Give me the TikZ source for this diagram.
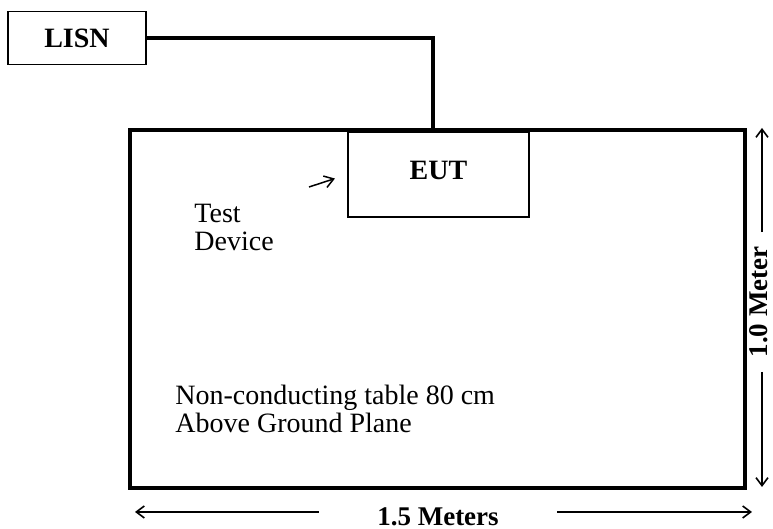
\documentclass[tikz,border=0pt]{standalone}
\usepackage{fontspec}
\setmainfont{Liberation Serif}
\usetikzlibrary{arrows.meta, positioning}

\begin{document}
\begin{tikzpicture}[
        x=0.5pt, y=-0.5pt,
        every node/.style={font=\fontsize{14}{14}\selectfont},
        box/.style={rectangle, draw, line width=0.9pt, font=\fontsize{14}{14}\selectfont\bfseries},
        tbl/.style={rectangle, draw, line width=2pt, minimum width=307.5pt, minimum height=179pt},
        note/.style={align=left, inner sep=0pt, anchor=base west},
        dimlabel/.style={font=\fontsize{13.5}{14}\selectfont\bfseries, inner ysep=0pt},
        wire/.style={line width=2pt},
        dim/.style={-{Straight Barb[length=4pt, width=6pt]}, line width=0.8pt},
        pointer/.style={-{Straight Barb[length=4.5pt, width=6pt]}, line width=0.75pt}
    ]
    \useasboundingbox (0,0) rectangle (773,529);

    \node[tbl] (table) at (437.5,309) {};
    \node[box, minimum width=69pt, minimum height=26.5pt] (lisn) at (77,38) {LISN};
    \node[box, minimum width=90.5pt, minimum height=42.5pt, line width=0.7pt,
          inner sep=0pt, text depth=4.5pt] (eut) at (438.5,174.5) {EUT};
    \coordinate (feed) at (433,130);

    \node[note] (device) at (194,251) {Test\\Device};
    \node[note] (plane) at (175,433) {Non-conducting table 80 cm\\Above Ground Plane};

    % feed line from LISN to the table
    \draw[wire] (lisn.east) -| (feed);

    % pointer to the EUT
    \coordinate (ptr) at (309,187);
    \draw[pointer, shorten >=6.5pt] (ptr) -- (eut.west);

    % dimensions
    \node[dimlabel, rotate=90, inner xsep=7pt] (height) at (759,302) {1.0 Meter};
    \coordinate (htop) at (762,128);
    \coordinate (hbot) at (762,487);
    \draw[dim] (height.east -| htop) -- (htop);
    \draw[dim] (height.west -| hbot) -- (hbot);

    \node[dimlabel, inner xsep=29pt] (width) at (438,517) {1.5 Meters};
    \coordinate (wleft) at (135,512);
    \coordinate (wright) at (752,512);
    \draw[dim] (width.west |- wleft) -- (wleft);
    \draw[dim] (width.east |- wright) -- (wright);

\end{tikzpicture}
\end{document}
